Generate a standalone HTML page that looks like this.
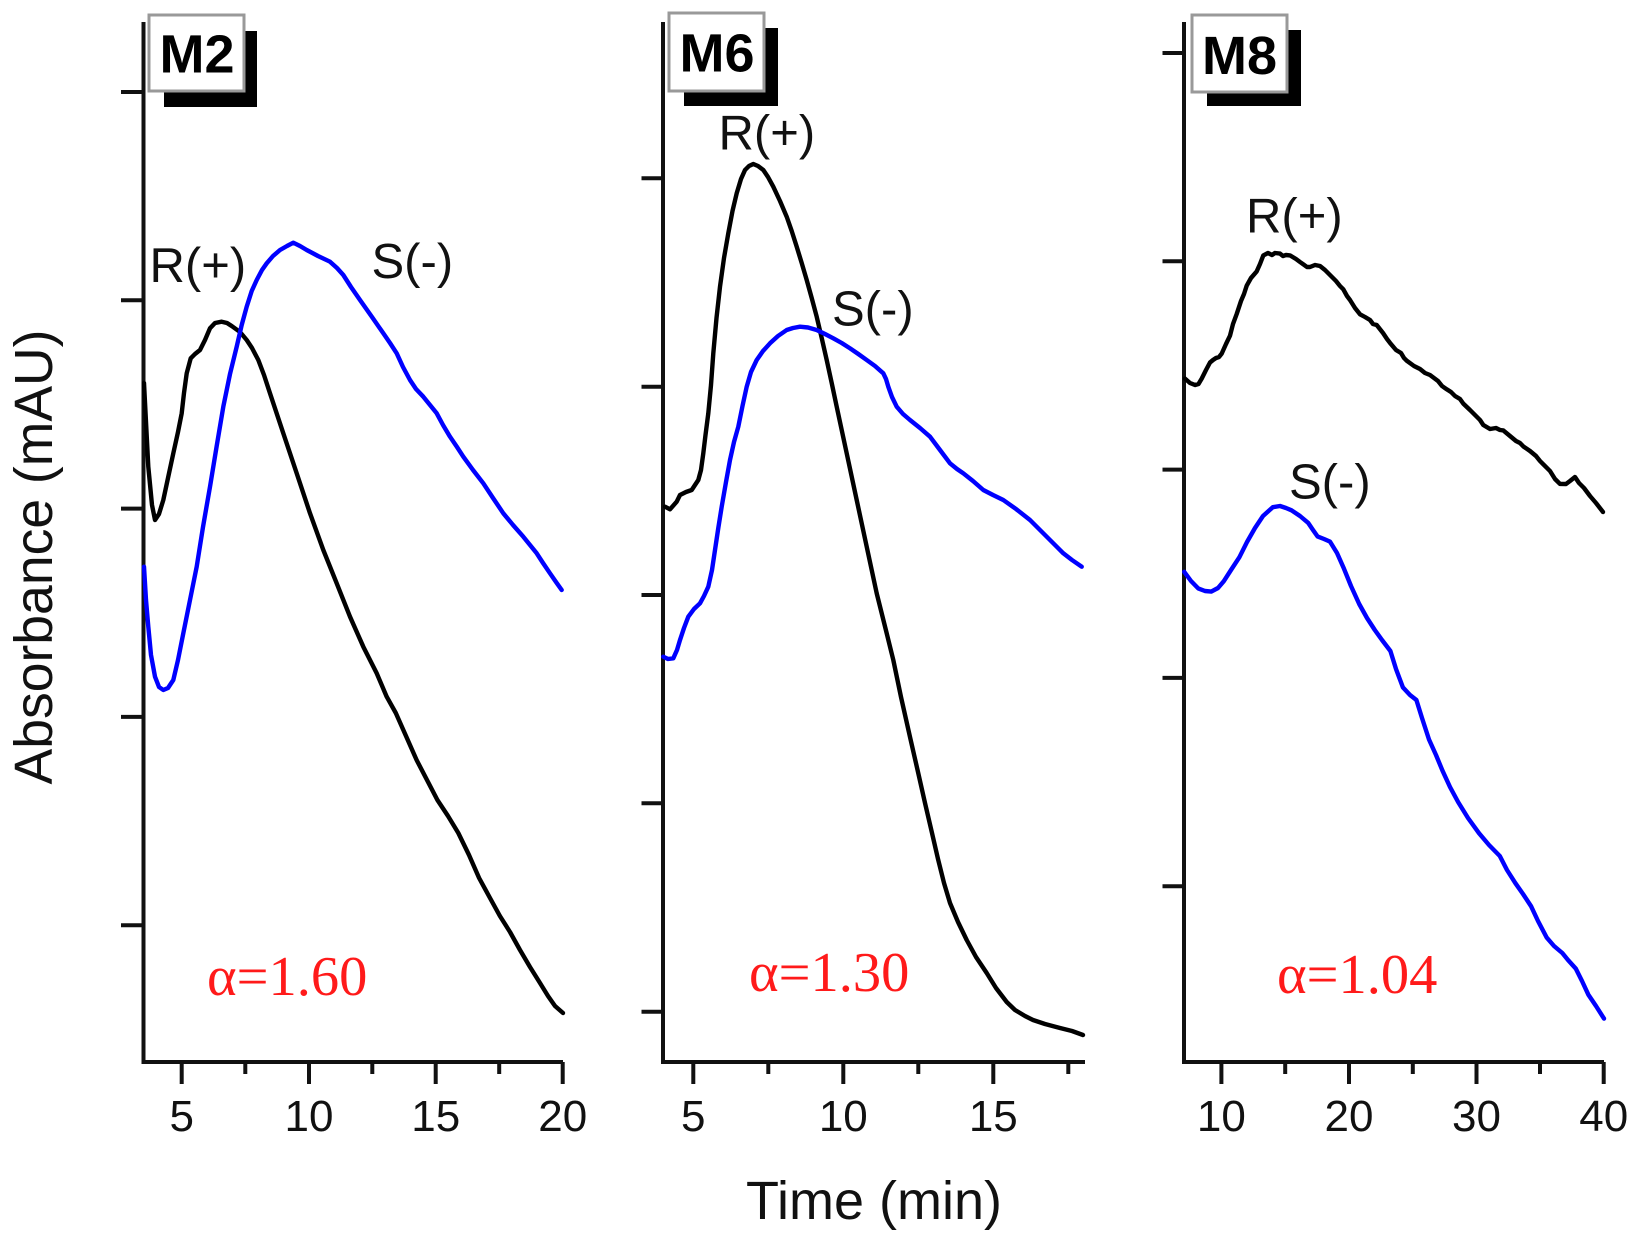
<!DOCTYPE html>
<html><head><meta charset="utf-8"><style>
html,body{margin:0;padding:0;background:#fff;}
svg{display:block;}
</style></head><body>
<svg width="1633" height="1241" viewBox="0 0 1633 1241" xmlns="http://www.w3.org/2000/svg">
<rect width="1633" height="1241" fill="#fff"/>
<g stroke="#111" stroke-width="4" fill="none" stroke-linecap="butt">
<!-- Panel 1 axes -->
<polyline points="143.5,22 143.5,1062 563,1062"/>
<path d="M121,92H143.5M121,300.3H143.5M121,508.6H143.5M121,716.9H143.5M121,925.2H143.5"/>
<path d="M181.7,1062V1084M309,1062V1084M435.7,1062V1084M562.7,1062V1084M245.3,1062V1074M372.3,1062V1074M499.2,1062V1074"/>
<!-- Panel 2 axes -->
<polyline points="663,22 663,1062 1085,1062"/>
<path d="M641.5,178.3H663M641.5,386.7H663M641.5,595H663M641.5,803.3H663M641.5,1011.7H663"/>
<path d="M693.3,1062V1084M843.3,1062V1084M993.3,1062V1084M768.3,1062V1074M918.3,1062V1074M1068.3,1062V1074"/>
<!-- Panel 3 axes -->
<polyline points="1184,22 1184,1062 1604,1062"/>
<path d="M1162.5,53H1184M1162.5,261.3H1184M1162.5,469.6H1184M1162.5,677.9H1184M1162.5,886.2H1184"/>
<path d="M1221.4,1062V1084M1349,1062V1084M1476.5,1062V1084M1603.7,1062V1084M1285.2,1062V1074M1412.8,1062V1074M1540,1062V1074"/>
</g>

<!-- Tick labels -->
<g font-family="Liberation Sans, Arial, sans-serif" font-size="44" fill="#111" text-anchor="middle">
<text x="181.7" y="1131">5</text><text x="309" y="1131">10</text><text x="435.7" y="1131">15</text><text x="562.7" y="1131">20</text>
<text x="693.3" y="1131">5</text><text x="843.3" y="1131">10</text><text x="993.3" y="1131">15</text>
<text x="1221.4" y="1131">10</text><text x="1349" y="1131">20</text><text x="1476.5" y="1131">30</text><text x="1603.7" y="1131">40</text>
</g>

<!-- Axis titles -->
<g font-family="Liberation Sans, Arial, sans-serif" fill="#111" text-anchor="middle">
<text transform="translate(52,557) rotate(-90)" font-size="53.5">Absorbance (mAU)</text>
<text x="874" y="1219" font-size="54">Time (min)</text>
</g>

<!-- Panel label boxes -->
<g>
<rect x="164" y="31" width="93" height="76" fill="#000"/>
<rect x="149" y="15" width="95" height="76" fill="#fff" stroke="#999" stroke-width="3"/>
<rect x="684" y="28" width="94" height="78" fill="#000"/>
<rect x="669" y="13" width="95" height="78" fill="#fff" stroke="#999" stroke-width="3"/>
<rect x="1207" y="30" width="94" height="76" fill="#000"/>
<rect x="1192" y="15" width="95" height="77" fill="#fff" stroke="#999" stroke-width="3"/>
</g>
<g font-family="Liberation Sans, Arial, sans-serif" font-size="54" font-weight="bold" fill="#000" text-anchor="middle">
<text x="197" y="72.5">M2</text>
<text x="717" y="71.5">M6</text>
<text x="1239.5" y="74">M8</text>
</g>

<!-- Peak labels -->
<g font-family="Liberation Sans, Arial, sans-serif" font-size="49" fill="#111">
<text x="149.5" y="282">R(+)</text>
<text x="371.5" y="278">S(-)</text>
<text x="718.5" y="149.5">R(+)</text>
<text x="832" y="325.5">S(-)</text>
<text x="1246" y="232.5">R(+)</text>
<text x="1289" y="498.5">S(-)</text>
</g>

<!-- alpha labels -->
<g font-family="Liberation Serif, 'Times New Roman', serif" font-size="56.5" fill="#ff1a1a">
<text x="207" y="995">α=1.60</text>
<text x="749" y="991">α=1.30</text>
<text x="1277" y="993">α=1.04</text>
</g>

<!-- Curves -->
<g fill="none" stroke-width="4.4" stroke-linejoin="round" stroke-linecap="round">
<polyline stroke="#000" points="144,383 148.3,466.7 152,505 155,520 159,514 163.3,500 168,478 173.3,453.3 178,432 181.7,413.3 184,393 186.7,373.3 190.7,358.3 195,354 200,350 205,340 210,328.3 215,323 221.7,321.7 227,323 231.7,326 240,332 246.7,340 252,348 258.3,360 264,375 270,393.3 283.3,433.3 296.7,473.3 310,513.3 323.3,550 336.7,583.3 350,616.7 363.3,646.7 376.7,673.3 386.7,696.7 395.8,713 406,736 416.6,760 427,780 437.4,800 448,816 458.3,833 469,855 479.1,878 490,898 499.9,916 510,932 520,950 530,967 540,983 548,996 555,1006 563,1013"/>
<polyline stroke="#0000ff" points="144,566.7 146,600 148.3,626.7 151,655 155,676.7 159,687 163.3,690 168,688 173.3,680 178,660 183.3,633.3 190,600 196.7,566.7 203,527 210,486.7 216.7,446 223.3,406.7 230,374 236.7,346.7 241.7,325 246.7,306.7 251.7,291 256.7,280 262,270 266.7,263.3 273,256 280,250 287,246 293.3,242.7 300,246 306.7,250 318,256 330,261.7 337,268 343.3,275 351,287 360,300 372,317 383.3,333.3 390,343 396.7,353.3 403,367 410,380 416,389 423.3,396.7 430,405 436.7,413.3 443,425 450,436.7 457,447 463.3,456.7 473,470 483.3,483.3 493,498 503.3,513.3 513,525 523.3,536.7 530,545 536.7,553.3 543,563 550,573.3 556,582 561.7,590"/>

<polyline stroke="#000" points="665,506.7 670,509.3 676.7,501.7 680,495 686,492 691.7,490 698.3,480 701,470 703.3,453.3 705.5,435 708.3,413.3 711,385 713.3,353.3 716.5,318 720,286.7 724,258 728.3,233.3 732.5,211 736.7,193.3 741,179 745,170 749,166 753.3,164 758,166 763.3,170 768,177 773.3,186.7 780,201 786.7,216.7 791.7,231 796.7,246.7 801.7,263 806.7,280 811.7,298 816.7,316.7 821.7,338 826.7,360 831.7,383 836.7,406.7 846.7,453.3 856.7,500 866.7,546.7 876.7,593.3 886.7,633.3 893.3,660 901,697 910,737 918,772 925,803 932,833 938,859 944,883 950,903 958,922 966.7,940 976,957 986.7,973 996,988 1006.7,1002 1015,1010 1025,1016 1033,1020 1045,1024 1060,1028 1072,1031 1083,1035"/>
<polyline stroke="#0000ff" points="663.3,656.7 668,659 673.3,658.3 677,650 680,640 684,628 688.3,616.7 694,609 700,603.3 704,596 708.3,586.7 712,570 715,550 718.3,528 721.7,506.7 726,482 730,460 734,442 738.3,426.7 742.5,406 746.7,386.7 751,372 756.7,360 763,351 770,343.3 778,336 786.7,330 793,328 800,326.7 808,327.5 816.7,330 825,334 833.3,338.3 841.7,343 850,348.3 858.3,354 866.7,360 875,366 883.3,373.3 886,379 888.3,386.7 892,397 896.7,406.7 903,414 910,420 920,428 930,436.7 940,450 950,463.3 957,469 963.3,473.3 973,481 983.3,490 993,495 1003.3,500 1016,509 1030,520 1040,530 1050,540 1057,547 1063.3,553.3 1072,560 1081.7,566.7"/>

<polyline stroke="#000" points="1185,378.6 1190,383 1195,385 1198.5,384 1201.7,378.6 1206,370 1210,362.5 1213,360 1216,358 1219,357 1221.7,353.6 1226,344 1230,335.7 1233,324 1236.7,314 1241,301 1244,294 1246.7,285.7 1251,278 1256.7,271.4 1260,264 1263.3,255.4 1268,253 1272,255 1275,253 1280,253.6 1283,256 1286,255 1290,255.4 1296,259 1300,262 1303.3,264.3 1307,267 1310,267 1315,265 1320,266 1325,270 1330,275 1336,281 1340,286 1343.3,289.3 1347,296 1350,300 1355,308 1360,314.3 1365,317 1370,320 1373,324 1376.7,325 1383,333 1387,339 1390,342.9 1396,350 1401,353 1404,358 1406.7,360.7 1414,366 1420,369 1425,373 1430,375 1434,378 1438,381 1442,386 1446.7,389.3 1451,392 1455,396 1460,399 1463.3,403.6 1470,410 1476,416 1480,420 1483.3,425 1490,429 1496,428 1500,430 1503.3,430.4 1510,436 1516,441 1520,443 1523.3,446.4 1530,451 1536,456 1540,461 1543.3,464.3 1550,471 1555,479 1560,483.9 1566,484 1570,481 1575,477 1579,483 1584,488 1590,496 1596,503 1603,512"/>
<polyline stroke="#0000ff" points="1184.2,571.8 1191,581 1198.2,588.4 1205,591 1211.3,591.6 1218,588 1223.8,581.2 1231,570 1239.4,557.2 1247,542 1255,528 1263,516 1272.8,507.2 1280,506 1286,508 1291.5,510.3 1300,516 1308.1,522.8 1313,530 1317.5,536.4 1324,539 1330,541.6 1337,553 1343.5,567.6 1351,586 1359.2,604 1367,618 1374.8,630 1382,640 1390.4,651 1396,669 1402.9,687.4 1410,695 1416.4,700 1422,718 1429,739.5 1436,755 1442.5,770.7 1450,787 1458.1,802 1468,818 1479,833.2 1489,845 1499.8,856 1507,870 1515.4,883.2 1523,894 1531,906.1 1538,921 1546.6,937.4 1554,946 1562.3,953 1568,960 1575.8,968.6 1582,981 1588.3,994.6 1596,1006 1604,1018.6"/>
</g>
</svg>
</body></html>
